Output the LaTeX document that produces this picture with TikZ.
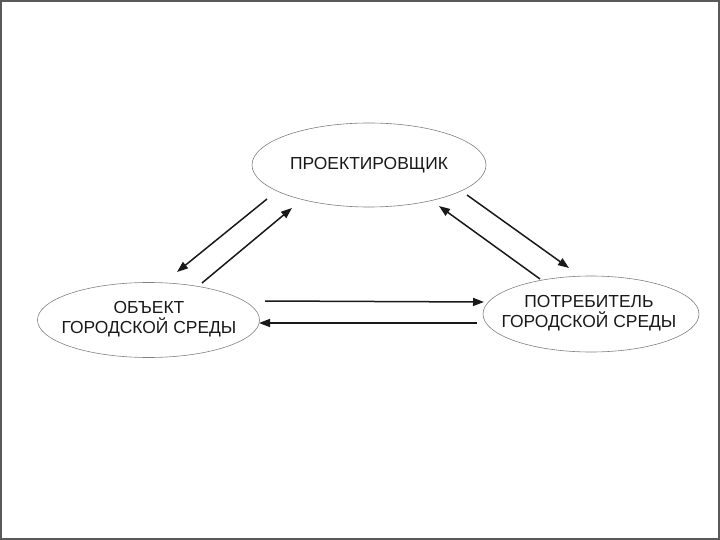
\documentclass[tikz,border=0pt]{standalone}
\usepackage{fontspec}
\setmainfont{Liberation Sans}
\usetikzlibrary{arrows.meta,shapes.geometric}
\begin{document}
\begin{tikzpicture}[x=1bp,y=-1bp,
  ell/.style={draw=black!50,line width=0.6bp,ellipse,inner sep=0pt},
  lbl/.style={font=\fontsize{17.5}{20}\selectfont,align=center,text=black!90},
  arr/.style={line width=1.5bp,black!90,-{Triangle[length=11bp,width=8bp]}}]
\useasboundingbox (0,0) rectangle (720,540);
\draw[black!65,line width=2bp] (1,1) rectangle (719,539);
\node[ell,minimum width=234bp,minimum height=84bp] (p) at (369,165) {};
\node[ell,minimum width=222bp,minimum height=75bp] (o) at (148.5,320) {};
\node[ell,minimum width=216bp,minimum height=76bp] (c) at (591,314) {};
\node[lbl] (pt) at (369,165.5) {ПРОЕКТИРОВЩИК};
\node[lbl] (ot) at (149,319) {ОБЪЕКТ\\ГОРОДСКОЙ СРЕДЫ};
\node[lbl] (ct) at (589,313) {ПОТРЕБИТЕЛЬ\\ГОРОДСКОЙ СРЕДЫ};
\coordinate (a1s) at (267,199); \coordinate (a1e) at (177,272);
\coordinate (a2s) at (202,283); \coordinate (a2e) at (292,208);
\coordinate (a3s) at (467,195); \coordinate (a3e) at (569,268);
\coordinate (a4s) at (540,279); \coordinate (a4e) at (439,206);
\coordinate (a5s) at (265,301); \coordinate (a5e) at (484,302);
\coordinate (a6s) at (477,323); \coordinate (a6e) at (259,323);
\draw[arr] (a1s) -- (a1e);
\draw[arr] (a2s) -- (a2e);
\draw[arr] (a3s) -- (a3e);
\draw[arr] (a4s) -- (a4e);
\draw[arr] (a5s) -- (a5e);
\draw[arr] (a6s) -- (a6e);
\end{tikzpicture}
\end{document}
